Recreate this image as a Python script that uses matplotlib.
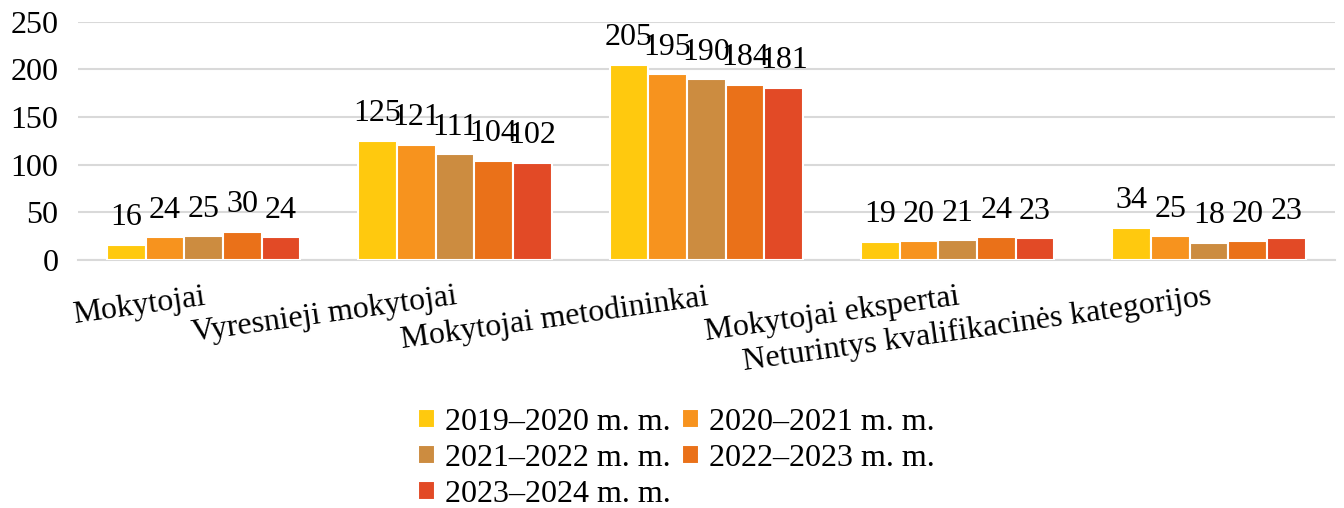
import matplotlib.pyplot as plt
import numpy as np

plt.rcParams['font.family'] = ['Liberation Serif', 'DejaVu Serif']

kategorijos = ['Mokytojai', 'Vyresnieji mokytojai', 'Mokytojai metodininkai',
               'Mokytojai ekspertai', 'Neturintys kvalifikacinės kategorijos']
metai = ['2019–2020 m. m.', '2020–2021 m. m.', '2021–2022 m. m.',
         '2022–2023 m. m.', '2023–2024 m. m.']
reiksmes = [
    [16, 125, 205, 19, 34],
    [24, 121, 195, 20, 25],
    [25, 111, 190, 21, 18],
    [30, 104, 184, 24, 20],
    [24, 102, 181, 23, 23],
]
spalvos = ['#FFC90E', '#F7931E', '#CC8C40', '#EA7119', '#E24A26']

fig = plt.figure(figsize=(13.44, 5.08), dpi=100)
ax = fig.add_axes([0.058, 0.488, 0.935, 0.469])

x = np.arange(len(kategorijos))
plotis = 0.154
for i, eil in enumerate(reiksmes):
    poz = x + (i - 2) * plotis
    bars = ax.bar(poz, eil, plotis, color=spalvos[i], edgecolor='white',
                  linewidth=1.5, label=metai[i], zorder=3)
    ax.bar_label(bars, padding=9, fontsize=23)

ax.set_ylim(0, 250)
ax.set_xlim(-0.5, len(kategorijos) - 0.5)
ax.set_yticks(range(0, 251, 50))
ax.tick_params(axis='y', labelsize=23, length=0, pad=14)
ax.tick_params(axis='x', length=0, pad=16)
ax.grid(axis='y', color='#d9d9d9', linewidth=1.5, zorder=0)
for s in ['top', 'right', 'left']:
    ax.spines[s].set_visible(False)
ax.spines['bottom'].set_color('#d9d9d9')
ax.spines['bottom'].set_linewidth(1.5)

ax.set_xticks(x)
ax.set_xticklabels(kategorijos, rotation=8, ha='right', va='top',
                   rotation_mode='anchor', fontsize=23)

# legenda eilutemis: 2019, 2020 / 2021, 2022 / 2023
h, l = ax.get_legend_handles_labels()
tvarka = [0, 2, 4, 1, 3]
fig.legend([h[k] for k in tvarka], [l[k] for k in tvarka],
           loc='center', bbox_to_anchor=(0.503, 0.098), ncol=2,
           frameon=False, fontsize=23, handlelength=0.55, handleheight=0.55,
           handletextpad=0.3, columnspacing=0.35, labelspacing=0.22)

fig.savefig('out.png', dpi=100)
